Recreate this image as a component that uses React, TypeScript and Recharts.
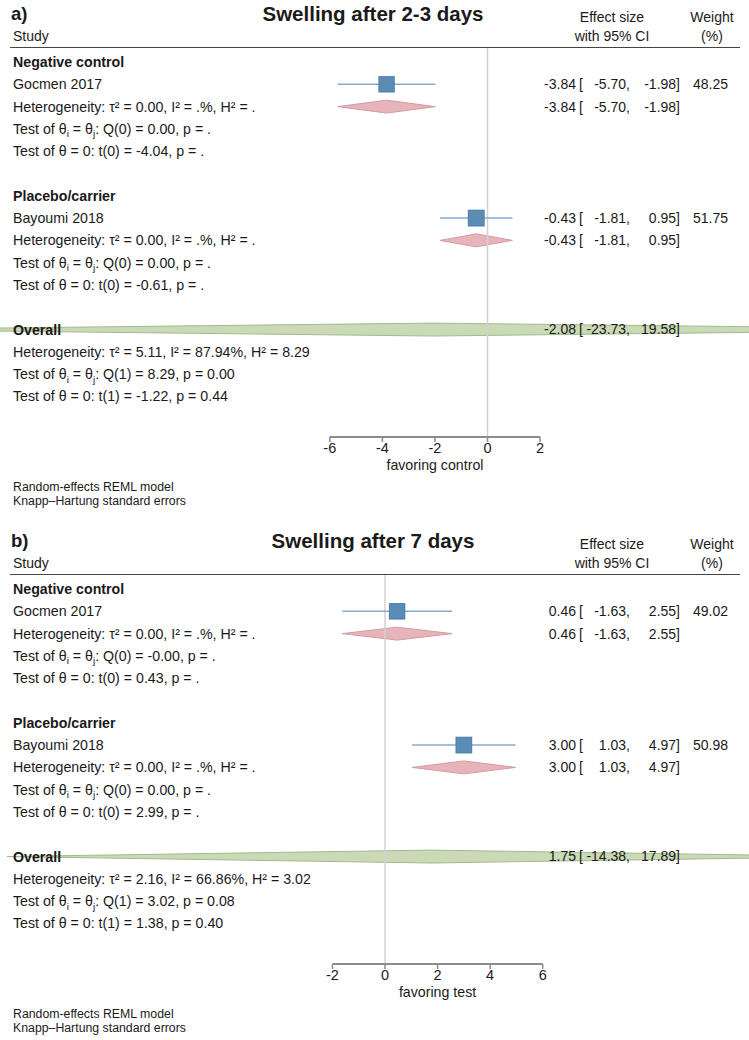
import React from "react";
import { ComposedChart, XAxis, YAxis, Scatter, Area, ErrorBar, ReferenceLine } from "recharts";

const FONT = '"Liberation Sans", Arial, Helvetica, sans-serif';
const INK = "#1a1a1a";

// panel a) swelling after 2-3 days
const groupsA = ["Negative control", "Placebo/carrier"];
const studiesA = ["Gocmen 2017", "Bayoumi 2018"];
const effectA = [-3.84, -0.43];
const lowerA = [-5.7, -1.81];
const upperA = [-1.98, 0.95];
const weightA = [48.25, 51.75];
const hetA = ["Heterogeneity: τ² = 0.00, I² = .%, H² = .", "Heterogeneity: τ² = 0.00, I² = .%, H² = ."];
const qTestA = ["Test of θ_i = θ_j: Q(0) = 0.00, p = .", "Test of θ_i = θ_j: Q(0) = 0.00, p = ."];
const zTestA = ["Test of θ = 0: t(0) = -4.04, p = .", "Test of θ = 0: t(0) = -0.61, p = ."];
const overallA = [-2.08, -23.73, 19.58];
const overallStatsA = [
  "Heterogeneity: τ² = 5.11, I² = 87.94%, H² = 8.29",
  "Test of θ_i = θ_j: Q(1) = 8.29, p = 0.00",
  "Test of θ = 0: t(1) = -1.22, p = 0.44",
];
const ticksA = [-6, -4, -2, 0, 2];

// panel b) swelling after 7 days
const groupsB = ["Negative control", "Placebo/carrier"];
const studiesB = ["Gocmen 2017", "Bayoumi 2018"];
const effectB = [0.46, 3.0];
const lowerB = [-1.63, 1.03];
const upperB = [2.55, 4.97];
const weightB = [49.02, 50.98];
const hetB = ["Heterogeneity: τ² = 0.00, I² = .%, H² = .", "Heterogeneity: τ² = 0.00, I² = .%, H² = ."];
const qTestB = ["Test of θ_i = θ_j: Q(0) = -0.00, p = .", "Test of θ_i = θ_j: Q(0) = 0.00, p = ."];
const zTestB = ["Test of θ = 0: t(0) = 0.43, p = .", "Test of θ = 0: t(0) = 2.99, p = ."];
const overallB = [1.75, -14.38, 17.89];
const overallStatsB = [
  "Heterogeneity: τ² = 2.16, I² = 66.86%, H² = 3.02",
  "Test of θ_i = θ_j: Q(1) = 3.02, p = 0.08",
  "Test of θ = 0: t(1) = 1.38, p = 0.40",
];
const ticksB = [-2, 0, 2, 4, 6];

const footnotes = ["Random-effects REML model", "Knapp–Hartung standard errors"];

const Y_TOP = -0.63;
const Y_BOTTOM = 16.82;
const HALF = 0.29;

// "_x" marks a subscript
function rich(s: string) {
  const parts = s.split(/_(\w)/);
  return parts.map((p, i) => {
    if (i === 0) return <tspan key={i}>{p}</tspan>;
    if (i % 2 === 1) return <tspan key={i} dy={3.5} fontSize="70%">{p}</tspan>;
    return <tspan key={i} dy={-3.5}>{p}</tspan>;
  });
}

const LeftText = (p: any) => {
  const d = p.payload;
  return (
    <text x={13} y={p.cy} dy="0.35em" fontSize={14.2} fontWeight={d.bold ? 700 : 400} fill={INK} fontFamily={FONT}>
      {rich(d.text)}
    </text>
  );
};

const RightText = (p: any) => {
  const d = p.payload;
  const [e, l, h] = d.ci;
  const y = p.cy;
  return (
    <g fontSize={14} fill={INK} fontFamily={FONT}>
      <text x={576} y={y} dy="0.35em" textAnchor="end">{e.toFixed(2)}</text>
      <text x={579} y={y} dy="0.35em">[</text>
      <text x={630} y={y} dy="0.35em" textAnchor="end">{l.toFixed(2)},</text>
      <text x={680} y={y} dy="0.35em" textAnchor="end">{h.toFixed(2)}]</text>
      {d.w != null && (
        <text x={728} y={y} dy="0.35em" textAnchor="end">{d.w.toFixed(2)}</text>
      )}
    </g>
  );
};

const Square = (p: any) => {
  const s = 2.2 * Math.sqrt(p.payload.w);
  return <rect x={p.cx - s / 2} y={p.cy - s / 2} width={s} height={s} fill="#5a8cb6" stroke="#4b7ca8" strokeWidth={1} />;
};

function diamond(es: number, lo: number, hi: number, row: number) {
  return [
    { x: lo, y: [row, row] },
    { x: es, y: [row - HALF, row + HALF] },
    { x: hi, y: [row, row] },
  ];
}

function Label({ x, cy, size, bold, children, center }: any) {
  return (
    <div
      style={{
        position: "absolute",
        left: center ? x - 150 : x,
        width: center ? 300 : undefined,
        textAlign: center ? "center" : "left",
        top: cy - size * 0.62,
        fontSize: size,
        lineHeight: `${size * 1.2}px`,
        fontWeight: bold ? 700 : 400,
        color: INK,
        whiteSpace: "nowrap",
      }}
    >
      {children}
    </div>
  );
}

function Panel(props: any) {
  const { top, height, tag, title, groups, studies, effect, lower, upper, weight, het, qTest, zTest, overall, overallStats, ticks, axisLabel, domain } = props;

  const leftRows: any[] = [];
  const rightRows: any[] = [];
  const squares: any[] = [];
  const subDiamonds: any[] = [];
  groups.forEach((g: string, i: number) => {
    const base = i * 6;
    const ci = [effect[i], lower[i], upper[i]];
    leftRows.push({ x: 0, y: base, text: g, bold: true });
    leftRows.push({ x: 0, y: base + 1, text: studies[i] });
    leftRows.push({ x: 0, y: base + 2, text: het[i] });
    leftRows.push({ x: 0, y: base + 3, text: qTest[i] });
    leftRows.push({ x: 0, y: base + 4, text: zTest[i] });
    rightRows.push({ x: 0, y: base + 1, ci, w: weight[i] });
    rightRows.push({ x: 0, y: base + 2, ci });
    squares.push({ x: effect[i], y: base + 1, err: [effect[i] - lower[i], upper[i] - effect[i]], w: weight[i] });
    subDiamonds.push(diamond(effect[i], lower[i], upper[i], base + 2));
  });
  const ov = groups.length * 6;
  leftRows.push({ x: 0, y: ov, text: "Overall", bold: true });
  overallStats.forEach((s: string, k: number) => leftRows.push({ x: 0, y: ov + 1 + k, text: s }));
  rightRows.push({ x: 0, y: ov, ci: overall });
  const overallDiamond = diamond(overall[0], overall[1], overall[2], ov);

  const xAxisH = 30;
  const plotBottom = 437;

  return (
    <div style={{ position: "absolute", left: 0, top, width: 749, height }}>
      <ComposedChart
        width={749}
        height={height}
        margin={{ top: 48, right: 0, bottom: height - plotBottom - xAxisH, left: 0 }}
      >
        <XAxis
          type="number"
          dataKey="x"
          domain={domain}
          allowDataOverflow
          ticks={ticks}
          interval={0}
          axisLine={false}
          tickLine={{ stroke: "#8c8c8c", strokeWidth: 1.5 }}
          tickSize={5}
          tickMargin={1}
          tick={{ fill: INK, fontSize: 14.5 }}
          height={xAxisH}
        />
        <YAxis type="number" dataKey="y" domain={[Y_TOP, Y_BOTTOM]} reversed hide allowDataOverflow />
        <Scatter data={leftRows} shape={LeftText} isAnimationActive={false} />
        {subDiamonds.map((d: any, i: number) => (
          <Area
            key={i}
            data={d}
            dataKey="y"
            type="linear"
            stroke="#d49aa2"
            strokeWidth={1}
            fill="#e7b4ba"
            fillOpacity={1}
            dot={false}
            activeDot={false}
            isAnimationActive={false}
          />
        ))}
        <Area
          data={overallDiamond}
          dataKey="y"
          type="linear"
          stroke="#a2bb8d"
          strokeWidth={1}
          fill="#c5d6b0"
          fillOpacity={0.92}
          dot={false}
          activeDot={false}
          isAnimationActive={false}
        />
        <ReferenceLine x={0} stroke="#d2d2d2" strokeWidth={1.5} />
        <ReferenceLine
          segment={[
            { x: ticks[0], y: Y_BOTTOM },
            { x: ticks[ticks.length - 1], y: Y_BOTTOM },
          ]}
          stroke="#8c8c8c"
          strokeWidth={2}
          label={{ value: axisLabel, position: "bottom", offset: 23, fill: INK, fontSize: 14.2 }}
        />
        <Scatter data={squares} shape={Square} isAnimationActive={false}>
          <ErrorBar dataKey="err" direction="x" width={0} stroke="#86aacb" strokeWidth={1.5} />
        </Scatter>
        <Scatter data={rightRows} shape={RightText} isAnimationActive={false} />
      </ComposedChart>

      <Label x={11} cy={14} size={18.5} bold>{tag}</Label>
      <Label x={373} cy={15} size={20.5} bold center>{title}</Label>
      <Label x={612} cy={18} size={14} center>Effect size</Label>
      <Label x={612} cy={37} size={14} center>with 95% CI</Label>
      <Label x={712} cy={18} size={14} center>Weight</Label>
      <Label x={712} cy={37} size={14} center>(%)</Label>
      <Label x={13} cy={37} size={14}>Study</Label>
      <div style={{ position: "absolute", left: 10, top: 46.8, width: 730, height: 1.6, background: "#444" }} />
      <Label x={13} cy={488} size={12.3}>{footnotes[0]}</Label>
      <Label x={13} cy={502} size={12.3}>{footnotes[1]}</Label>
    </div>
  );
}

export default function App() {
  return (
    <div style={{ position: "absolute", left: 0, top: 0, width: 749, height: 1040, background: "#fff", fontFamily: FONT, overflow: "hidden" }}>
      <Panel
        top={0}
        height={527}
        tag="a)"
        title="Swelling after 2-3 days"
        groups={groupsA}
        studies={studiesA}
        effect={effectA}
        lower={lowerA}
        upper={upperA}
        weight={weightA}
        het={hetA}
        qTest={qTestA}
        zTest={zTestA}
        overall={overallA}
        overallStats={overallStatsA}
        ticks={ticksA}
        axisLabel="favoring control"
        domain={[-18.55, 9.95]}
      />
      <Panel
        top={527}
        height={513}
        tag="b)"
        title="Swelling after 7 days"
        groups={groupsB}
        studies={studiesB}
        effect={effectB}
        lower={lowerB}
        upper={upperB}
        weight={weightB}
        het={hetB}
        qTest={qTestB}
        zTest={zTestB}
        overall={overallB}
        overallStats={overallStatsB}
        ticks={ticksB}
        axisLabel="favoring test"
        domain={[-14.65, 13.85]}
      />
    </div>
  );
}
